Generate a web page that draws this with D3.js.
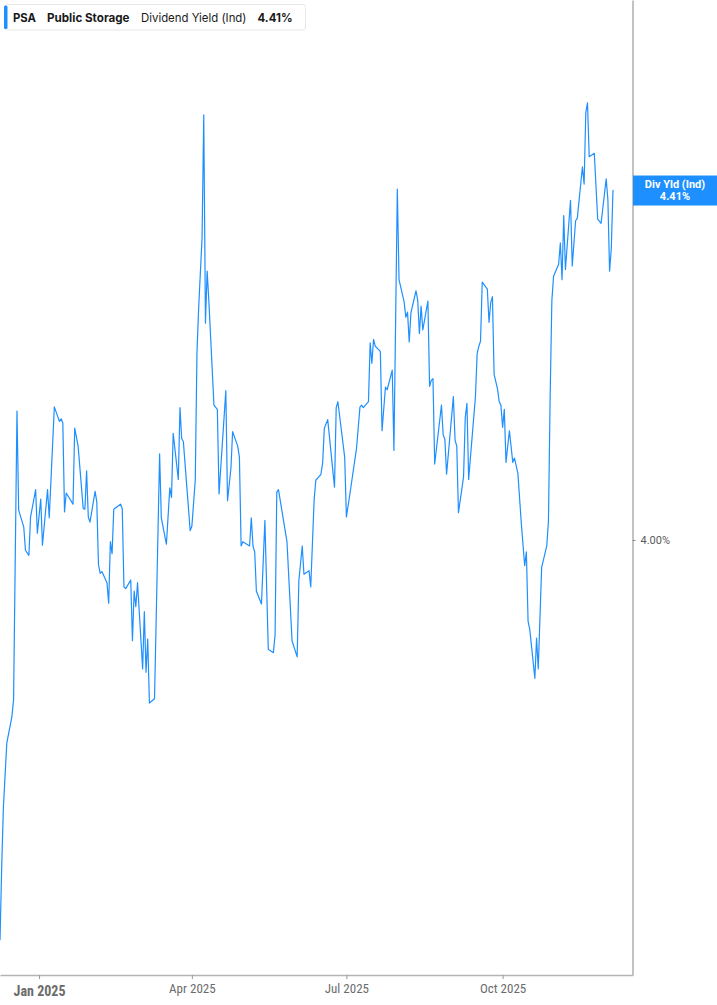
<!DOCTYPE html>
<html><head><meta charset="utf-8">
<script src="https://cdn.jsdelivr.net/npm/d3@7"></script>
<style>body{margin:0;background:#fff}svg{display:block}</style>
</head><body>
<svg id="c" width="717" height="1005"></svg>
<script>
// ---- data ----
const ticker = "PSA";
const company = "Public Storage";
const metric = "Dividend Yield (Ind)";
const shortMetric = "Div Yld (Ind)";
const dates = [
"2024-12-09","2024-12-10","2024-12-11","2024-12-13","2024-12-16","2024-12-17","2024-12-19","2024-12-20","2024-12-23","2024-12-24",
"2024-12-26","2024-12-27","2024-12-30","2024-12-31","2025-01-02","2025-01-03","2025-01-06","2025-01-07","2025-01-10","2025-01-13",
"2025-01-14","2025-01-15","2025-01-16","2025-01-17","2025-01-21","2025-01-22","2025-01-24","2025-01-27","2025-01-28","2025-01-29",
"2025-01-30","2025-01-31","2025-02-03","2025-02-04","2025-02-05","2025-02-06","2025-02-07","2025-02-10","2025-02-11","2025-02-12",
"2025-02-13","2025-02-14","2025-02-18","2025-02-19","2025-02-20","2025-02-21","2025-02-24","2025-02-25","2025-02-26","2025-02-27",
"2025-02-28","2025-03-03","2025-03-04","2025-03-05","2025-03-06","2025-03-07","2025-03-10","2025-03-13","2025-03-14","2025-03-17",
"2025-03-19","2025-03-20","2025-03-21","2025-03-24","2025-03-25","2025-03-26","2025-03-27","2025-03-31","2025-04-01","2025-04-03",
"2025-04-04","2025-04-05","2025-04-07","2025-04-08","2025-04-09","2025-04-10","2025-04-11","2025-04-14","2025-04-16","2025-04-17",
"2025-04-21","2025-04-22","2025-04-24","2025-04-25","2025-04-28","2025-04-29","2025-04-30","2025-05-01","2025-05-05","2025-05-06",
"2025-05-07","2025-05-08","2025-05-09","2025-05-12","2025-05-14","2025-05-16","2025-05-19","2025-05-20","2025-05-21","2025-05-22",
"2025-05-27","2025-05-30","2025-06-02","2025-06-03","2025-06-05","2025-06-06","2025-06-09","2025-06-10","2025-06-12","2025-06-13",
"2025-06-16","2025-06-17","2025-06-18","2025-06-20","2025-06-24","2025-06-25","2025-06-26","2025-06-30","2025-07-01","2025-07-03",
"2025-07-07","2025-07-09","2025-07-10","2025-07-11","2025-07-14","2025-07-15","2025-07-16","2025-07-17","2025-07-18","2025-07-21",
"2025-07-22","2025-07-24","2025-07-25","2025-07-28","2025-07-29","2025-07-31","2025-08-01","2025-08-04","2025-08-05","2025-08-06",
"2025-08-07","2025-08-08","2025-08-11","2025-08-12","2025-08-13","2025-08-14","2025-08-15","2025-08-18","2025-08-19","2025-08-20",
"2025-08-21","2025-08-22","2025-08-26","2025-08-27","2025-08-28","2025-08-29","2025-09-02","2025-09-03","2025-09-04","2025-09-05",
"2025-09-08","2025-09-09","2025-09-10","2025-09-11","2025-09-15","2025-09-16","2025-09-17","2025-09-18","2025-09-19","2025-09-22",
"2025-09-23","2025-09-24","2025-09-25","2025-09-26","2025-09-28","2025-09-29","2025-09-30","2025-10-01","2025-10-02","2025-10-03",
"2025-10-05","2025-10-07","2025-10-08","2025-10-10","2025-10-12","2025-10-14","2025-10-15","2025-10-16","2025-10-17","2025-10-20",
"2025-10-21","2025-10-22","2025-10-24","2025-10-27","2025-10-28","2025-10-29","2025-10-30","2025-10-31","2025-11-03","2025-11-04",
"2025-11-05","2025-11-06","2025-11-07","2025-11-10","2025-11-11","2025-11-13","2025-11-14","2025-11-17","2025-11-18","2025-11-19",
"2025-11-20","2025-11-21","2025-11-24","2025-11-26","2025-11-28","2025-12-01","2025-12-02","2025-12-03","2025-12-04","2025-12-05"
];
const yields = [
3.531,3.617,3.687,3.762,3.793,3.813,4.151,4.035,4.015,3.988,
3.982,4.027,4.059,4.008,4.048,3.994,4.059,4.026,4.156,4.139,
4.142,4.137,4.033,4.055,4.042,4.131,4.110,4.037,4.036,4.081,
4.027,4.021,4.057,4.045,3.971,3.961,3.963,3.950,3.926,3.998,
3.984,4.036,4.042,4.037,3.945,3.943,3.953,3.882,3.940,3.922,
3.950,3.849,3.916,3.845,3.884,3.809,3.814,4.101,4.026,3.995,
4.061,4.050,4.125,4.071,4.155,4.119,4.115,4.011,4.016,4.070,
4.219,4.272,4.354,4.498,4.254,4.315,4.280,4.158,4.153,4.054,
4.175,4.046,4.084,4.127,4.110,4.097,3.993,3.998,3.993,4.026,
3.993,3.986,3.940,3.925,4.023,3.872,3.868,3.889,4.056,4.059,
3.998,3.882,3.863,3.952,3.993,3.960,3.964,3.945,4.047,4.070,
4.077,4.090,4.131,4.141,4.062,4.155,4.162,4.097,4.027,4.053,
4.108,4.156,4.158,4.155,4.162,4.231,4.207,4.235,4.227,4.221,
4.128,4.179,4.176,4.199,4.105,4.411,4.305,4.279,4.261,4.267,
4.232,4.266,4.292,4.281,4.242,4.274,4.246,4.280,4.180,4.187,
4.189,4.089,4.158,4.123,4.118,4.077,4.168,4.117,4.110,4.032,
4.074,4.143,4.160,4.071,4.168,4.218,4.227,4.233,4.302,4.294,
4.255,4.278,4.285,4.194,4.177,4.162,4.158,4.132,4.153,4.091,
4.128,4.091,4.096,4.078,4.020,3.970,3.986,3.905,3.895,3.838,
3.885,3.849,3.968,3.993,4.022,4.168,4.280,4.309,4.323,4.348,
4.305,4.380,4.317,4.398,4.321,4.374,4.377,4.437,4.417,4.501,
4.512,4.449,4.453,4.376,4.371,4.423,4.399,4.315,4.341,4.410
];
const xTickDates = ["2025-01-01","2025-04-01","2025-07-01","2025-10-01"];
const yTickValues = [4.00];
const xDomain = ["2024-12-09","2025-12-16T12:00"];
const yDomain = [3.4904, 4.6326];

// ---- chart ----
const parse = s => new Date(s.length > 10 ? s + "Z" : s + "T00:00:00Z");
const data = dates.map((d, i) => ({date: parse(d), v: yields[i]}));
const last = data[data.length - 1];

const svg = d3.select("#c");
const plotRight = 632.5, axisY = 975;
const blue = "#1e8fff";
const grey = "#b4b4b4";

const x = d3.scaleUtc().domain(xDomain.map(parse)).range([0, plotRight]);
const y = d3.scaleLinear().domain(yDomain).range([axisY, 0]);

svg.append("defs").append("clipPath").attr("id", "clip")
  .append("rect").attr("x", 0).attr("y", 0).attr("width", plotRight).attr("height", axisY);

const line = d3.line().x(d => x(d.date)).y(d => y(d.v));
svg.append("path").datum(data)
  .attr("clip-path", "url(#clip)")
  .attr("fill", "none").attr("stroke", blue).attr("stroke-width", 1.2)
  .attr("stroke-linejoin", "round")
  .attr("d", line);

// x axis
const fmt = d3.utcFormat("%b %Y");
const xa = svg.append("g").attr("transform", `translate(0,${axisY})`)
  .call(d3.axisBottom(x).tickValues(xTickDates.map(parse)).tickFormat(fmt).tickSize(4).tickSizeOuter(0));
xa.select(".domain").attr("stroke", grey).attr("stroke-width", 1.6);
xa.selectAll(".tick line").attr("stroke", "#999").attr("stroke-width", 1);
xa.selectAll(".tick text")
  .attr("fill", "#6b6b6b")
  .attr("dy", null)
  .attr("y", (d, i) => i === 0 ? 20.5 : 17.5)
  .style("font-family", "'Liberation Sans Narrow', 'Roboto Condensed', Roboto, sans-serif")
  .style("font-size", (d, i) => i === 0 ? "14px" : "13px")
  .style("font-weight", (d, i) => i === 0 ? "bold" : "normal");

// y axis on the right
const ya = svg.append("g").attr("transform", `translate(${plotRight},0)`)
  .call(d3.axisRight(y).tickValues(yTickValues).tickFormat(d => d3.format(".2f")(d) + "%").tickSize(3).tickSizeOuter(0));
ya.select(".domain").attr("stroke", grey).attr("stroke-width", 1.6);
ya.selectAll(".tick line").attr("stroke", "#888");
ya.selectAll(".tick text")
  .attr("x", 8).attr("fill", "#5a5a5a")
  .style("font-family", "Roboto, 'Noto Sans', sans-serif").style("font-size", "11px");

// current value label
const ly = y(last.v);
svg.append("rect").attr("x", plotRight + 0.5).attr("y", ly - 14.5).attr("width", 717 - plotRight).attr("height", 30).attr("fill", blue);
const lab = svg.append("text").attr("text-anchor", "middle").attr("fill", "#fff")
  .style("font-family", "Roboto, 'Noto Sans', sans-serif").style("font-size", "11px").style("font-weight", "bold");
lab.append("tspan").attr("x", 675).attr("y", ly - 2).text(shortMetric);
lab.append("tspan").attr("x", 675).attr("y", ly + 10).text(d3.format(".2f")(last.v) + "%");

// header legend
const hg = svg.append("g");
hg.append("rect").attr("x", 4.5).attr("y", 4.5).attr("width", 301).attr("height", 25.5).attr("rx", 3)
  .attr("fill", "#fff").attr("stroke", "#e6e6e6");
hg.append("rect").attr("x", 4).attr("y", 5.5).attr("width", 3.5).attr("height", 23.5).attr("rx", 1.5).attr("fill", blue);
const ht = (tx, px, w, len) => hg.append("text").attr("x", px).attr("y", 21.5).attr("fill", "#1a1a1a")
  .attr("textLength", len).attr("lengthAdjust", "spacingAndGlyphs")
  .style("font-family", "Inter, Roboto, sans-serif").style("font-size", "12px").style("font-weight", w).text(tx);
ht(ticker, 13, 700, 23);
ht(company, 47, 700, 82.5);
ht(metric, 141, 400, 105.5);
ht(d3.format(".2f")(last.v) + "%", 257.5, 700, 35);
</script>
</body></html>
